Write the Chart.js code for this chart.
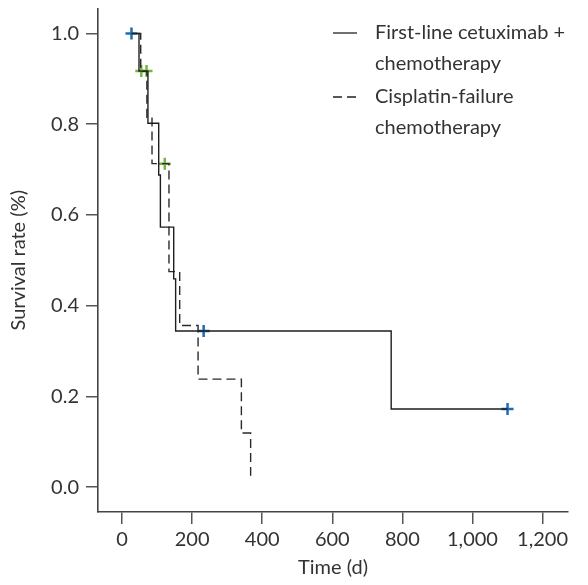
<!DOCTYPE html>
<html>
<head>
<meta charset="utf-8">
<script src="https://cdn.jsdelivr.net/npm/chart.js@4.4.1/dist/chart.umd.min.js"></script>
<style>
  html, body { margin: 0; padding: 0; background: #fff; }
  #wrap { width: 588px; height: 585px; }
</style>
</head>
<body>
<div id="wrap"><canvas id="km"></canvas></div>
<script>
// Kaplan-Meier steps (time in days, survival fraction)
const cetuxTimes = [27, 48.5, 74, 104.7, 109.5, 147.5, 153, 768, 1100];
const cetuxSurv  = [1.0, 0.917, 0.802, 0.688, 0.573, 0.459, 0.344, 0.172, 0.172];

const cisTimes = [46, 53.4, 71, 85.6, 134, 164.6, 217, 340.6, 367];
const cisSurv  = [1.0, 0.917, 0.815, 0.713, 0.475, 0.356, 0.238, 0.119, 0.025];

// censored observations
const cetuxCensorT = [27, 233, 1100];
const cetuxCensorS = [1.0, 0.344, 0.172];
const cisCensorT = [55, 70, 122];
const cisCensorS = [0.917, 0.917, 0.713];

const xTicks = [0, 200, 400, 600, 800, 1000, 1200];
const yTicks = [0.0, 0.2, 0.4, 0.6, 0.8, 1.0];

const legendItems = [
  { lines: ['First-line cetuximab +', 'chemotherapy'], dash: [] },
  { lines: ['Cisplatin-failure', 'chemotherapy'], dash: [9, 5] }
];

const FONT = 'Lato, "Open Sans", sans-serif';
const FSIZE = 20;
const TEXT = '#333';

function pts(xs, ys) {
  return xs.map((x, i) => ({ x: x, y: ys[i] }));
}

// legend drawn by hand since it wraps each label over two lines
const legendPlugin = {
  id: 'kmLegend',
  afterDraw(chart) {
    const ctx = chart.ctx;
    ctx.save();
    ctx.font = FSIZE + 'px ' + FONT;
    ctx.fillStyle = TEXT;
    ctx.textBaseline = 'middle';
    let y = 33;
    legendItems.forEach(item => {
      ctx.beginPath();
      ctx.setLineDash(item.dash);
      ctx.strokeStyle = '#222';
      ctx.lineWidth = 1.3;
      ctx.moveTo(333, y);
      ctx.lineTo(357, y);
      ctx.stroke();
      item.lines.forEach((t, i) => {
        ctx.fillText(t, 375, y + i * 31);
      });
      y += 64;
    });
    ctx.restore();
  }
};

new Chart(document.getElementById('km'), {
  type: 'line',
  data: {
    datasets: [
      {
        data: pts(cetuxTimes, cetuxSurv),
        stepped: true,
        borderColor: '#1e1e1e',
        borderWidth: 1.4,
        pointRadius: 0,
        fill: false
      },
      {
        data: pts(cisTimes, cisSurv),
        stepped: true,
        borderColor: '#2a2a2a',
        borderWidth: 1.4,
        borderDash: [9, 5],
        pointRadius: 0,
        fill: false
      },
      {
        type: 'scatter',
        data: pts(cetuxCensorT, cetuxCensorS),
        pointStyle: 'cross',
        pointRadius: 6,
        borderColor: '#1f6cb0',
        borderWidth: 2.5,
        showLine: false
      },
      {
        type: 'scatter',
        data: pts(cisCensorT, cisCensorS),
        pointStyle: 'cross',
        pointRadius: 6,
        borderColor: '#76b543',
        borderWidth: 2.5,
        showLine: false
      }
    ]
  },
  options: {
    responsive: true,
    maintainAspectRatio: false,
    animation: false,
    layout: { padding: { top: 6, right: 20, left: 0, bottom: 0 } },
    plugins: {
      legend: { display: false },
      tooltip: { enabled: false }
    },
    scales: {
      x: {
        type: 'linear',
        min: -68.5,
        max: 1272.5,
        afterBuildTicks: s => { s.ticks = xTicks.map(v => ({ value: v })); },
        afterFit: s => {
          s.height = 73;
          s.paddingLeft = 0;
          s.paddingRight = 0;
        },
        grid: { display: true, drawOnChartArea: false, drawTicks: true, tickLength: 12, color: '#555', lineWidth: 1.5 },
        border: { display: true, color: '#444', width: 1.6 },
        ticks: {
          padding: 4,
          color: TEXT,
          font: { family: FONT, size: FSIZE },
          maxRotation: 0,
          callback: v => v.toLocaleString('en-US')
        },
        title: {
          display: true,
          text: 'Time (d)',
          color: TEXT,
          font: { family: FONT, size: FSIZE },
          padding: { top: 0, bottom: 5 }
        }
      },
      y: {
        type: 'linear',
        min: -0.055,
        max: 1.055,
        afterBuildTicks: s => { s.ticks = yTicks.map(v => ({ value: v })); },
        afterFit: s => {
          s.width = 98;
          s.paddingTop = 0;
          s.paddingBottom = 0;
        },
        grid: { display: true, drawOnChartArea: false, drawTicks: true, tickLength: 12, color: '#555', lineWidth: 1.5 },
        border: { display: true, color: '#444', width: 1.6 },
        ticks: {
          padding: 7,
          color: TEXT,
          font: { family: FONT, size: FSIZE },
          callback: v => v.toFixed(1)
        },
        title: {
          display: true,
          text: 'Survival rate (%)',
          color: TEXT,
          font: { family: FONT, size: FSIZE },
          padding: { top: 7, bottom: 0 }
        }
      }
    }
  },
  plugins: [legendPlugin]
});
</script>
</body>
</html>
